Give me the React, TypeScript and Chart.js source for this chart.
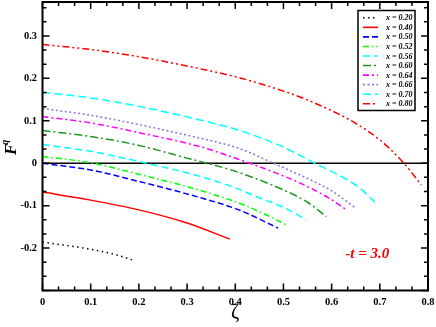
import React, { useEffect, useRef } from "react";
import { Chart, registerables } from "chart.js";

Chart.register(...registerables);

// ---- data ----
const seriesLabels = ["x = 0.20", "x = 0.40", "x = 0.50", "x = 0.52", "x = 0.56", "x = 0.60", "x = 0.64", "x = 0.66", "x = 0.70", "x = 0.80"];

const zeta020 = [0, 0.05, 0.1, 0.15, 0.192];
const f020 = [-0.186, -0.194, -0.203, -0.215, -0.23];

const zeta040 = [0, 0.1, 0.2, 0.3, 0.389];
const f040 = [-0.068, -0.087, -0.11, -0.141, -0.179];

const zeta050 = [0, 0.1, 0.2, 0.327, 0.41, 0.489];
const f050 = [0.0, -0.016, -0.043, -0.081, -0.111, -0.153];

const zeta052 = [0, 0.1, 0.2, 0.327, 0.41, 0.465, 0.51];
const f052 = [0.016, 0.001, -0.026, -0.064, -0.095, -0.122, -0.148];

const zeta056 = [0, 0.1, 0.2, 0.327, 0.4, 0.451, 0.5, 0.547];
const f056 = [0.044, 0.028, 0.004, -0.031, -0.058, -0.082, -0.104, -0.133];

const zeta060 = [0, 0.1, 0.2, 0.3, 0.4, 0.5, 0.55, 0.589];
const f060 = [0.077, 0.063, 0.042, 0.012, -0.019, -0.063, -0.092, -0.126];

const zeta064 = [0, 0.1, 0.2, 0.327, 0.43, 0.5, 0.55, 0.6, 0.631];
const f064 = [0.11, 0.095, 0.072, 0.039, 0.0, -0.03, -0.055, -0.086, -0.11];

const zeta066 = [0, 0.1, 0.2, 0.3, 0.41, 0.479, 0.55, 0.6, 0.648];
const f066 = [0.129, 0.113, 0.091, 0.066, 0.034, 0.0, -0.036, -0.065, -0.104];

const zeta070 = [0, 0.1, 0.2, 0.327, 0.41, 0.5, 0.565, 0.631, 0.66, 0.69];
const f070 = [0.167, 0.154, 0.134, 0.102, 0.077, 0.038, 0.0, -0.038, -0.06, -0.092];

const zeta080 = [0, 0.1, 0.2, 0.3, 0.41, 0.5, 0.55, 0.6, 0.65, 0.7, 0.75, 0.786];
const f080 = [0.28, 0.268, 0.251, 0.229, 0.201, 0.17, 0.149, 0.124, 0.094, 0.055, 0.0, -0.051];

const xTickValues = [0, 0.1, 0.2, 0.3, 0.4, 0.5, 0.6, 0.7, 0.8];
const xTickLabels = ["0", "0.1", "0.2", "0.3", "0.4", "0.5", "0.6", "0.7", "0.8"];
const yTickValues = [-0.2, -0.1, 0, 0.1, 0.2, 0.3];
const yTickLabels = ["-0.2", "-0.1", "0", "0.1", "0.2", "0.3"];
const yMajorMarks = [-0.3, -0.2, -0.1, 0, 0.1, 0.2, 0.3];

const annotationText = "-t = 3.0";

// ---- styles ----
const colors = ["#000000", "#ff0000", "#0000ff", "#00ff00", "#00ffff", "#1e9a1e", "#ff00ff", "#9370db", "#00ffff", "#ff0000"];
const dashes: number[][] = [
  [1.5, 3.5],
  [],
  [6, 3],
  [6, 3, 1.5, 3],
  [7, 4],
  [8, 3, 2, 3],
  [6, 3, 2, 3],
  [2, 2.5],
  [8, 4],
  [7, 3, 2, 3, 2, 3],
];

const zetas = [zeta020, zeta040, zeta050, zeta052, zeta056, zeta060, zeta064, zeta066, zeta070, zeta080];
const fs = [f020, f040, f050, f052, f056, f060, f064, f066, f070, f080];

const SERIF = "'Liberation Serif', 'Times New Roman', serif";

const overlayPlugin = {
  id: "overlay",
  beforeDatasetsDraw(chart: any) {
    const { ctx, chartArea, scales } = chart;
    const y0 = scales.y.getPixelForValue(0);
    ctx.save();
    ctx.strokeStyle = "#000";
    ctx.lineWidth = 1.5;
    ctx.beginPath();
    ctx.moveTo(chartArea.left, y0);
    ctx.lineTo(chartArea.right, y0);
    ctx.stroke();
    ctx.restore();
  },
  afterDraw(chart: any) {
    const { ctx, chartArea, scales } = chart;
    const { left, right, top, bottom } = chartArea;
    const xs = scales.x;
    const ys = scales.y;
    ctx.save();
    // frame
    ctx.strokeStyle = "#000";
    ctx.lineWidth = 2;
    ctx.strokeRect(left, top, right - left, bottom - top);
    // ticks
    ctx.lineWidth = 1.5;
    const major = 7;
    const minor = 4;
    ctx.beginPath();
    for (let i = 0; i < xTickValues.length; i++) {
      const v = xTickValues[i];
      const px = xs.getPixelForValue(v);
      ctx.moveTo(px, bottom);
      ctx.lineTo(px, bottom - major);
      ctx.moveTo(px, top);
      ctx.lineTo(px, top + major);
      if (i < xTickValues.length - 1) {
        for (let k = 1; k <= 2; k++) {
          const m = xs.getPixelForValue(v + (0.1 * k) / 3);
          ctx.moveTo(m, bottom);
          ctx.lineTo(m, bottom - minor);
          ctx.moveTo(m, top);
          ctx.lineTo(m, top + minor);
        }
      }
    }
    for (let i = 0; i < yMajorMarks.length; i++) {
      const v = yMajorMarks[i];
      const py = ys.getPixelForValue(v);
      ctx.moveTo(left, py);
      ctx.lineTo(left + major, py);
      ctx.moveTo(right, py);
      ctx.lineTo(right - major, py);
      for (let k = 1; k <= 2; k++) {
        const mv = v + (0.1 * k) / 3;
        if (mv > ys.max) continue;
        const m = ys.getPixelForValue(mv);
        ctx.moveTo(left, m);
        ctx.lineTo(left + minor, m);
        ctx.moveTo(right, m);
        ctx.lineTo(right - minor, m);
      }
    }
    ctx.stroke();

    // legend
    const lx = right - 70;
    const ly = top + 8.5;
    const lw = 57;
    const lh = 100;
    ctx.fillStyle = "#fff";
    ctx.fillRect(lx, ly, lw, lh);
    ctx.lineWidth = 1.5;
    ctx.strokeStyle = "#000";
    ctx.strokeRect(lx, ly, lw, lh);
    ctx.font = `italic bold 8px ${SERIF}`;
    ctx.textBaseline = "middle";
    ctx.textAlign = "left";
    for (let i = 0; i < seriesLabels.length; i++) {
      const ry = ly + 7.3 + i * 9.55;
      ctx.strokeStyle = colors[i];
      ctx.lineWidth = 1.6;
      ctx.setLineDash(dashes[i]);
      ctx.beginPath();
      ctx.moveTo(lx + 5, ry);
      ctx.lineTo(lx + 20, ry);
      ctx.stroke();
      ctx.setLineDash([]);
      ctx.fillStyle = "#000";
      ctx.fillText(seriesLabels[i], lx + 28, ry + 0.5);
    }

    // annotation
    ctx.fillStyle = "#ff0000";
    ctx.font = `italic bold 15px ${SERIF}`;
    ctx.textAlign = "center";
    ctx.textBaseline = "alphabetic";
    ctx.fillText(annotationText, xs.getPixelForValue(0.674), ys.getPixelForValue(-0.223));

    // x title
    ctx.fillStyle = "#000";
    ctx.font = `20px ${SERIF}`;
    ctx.textAlign = "center";
    ctx.textBaseline = "alphabetic";
    ctx.fillText("\u03b6", (left + right) / 2, 318);

    // y title
    ctx.save();
    ctx.translate(16, 155);
    ctx.rotate(-Math.PI / 2);
    ctx.font = `italic bold 17px ${SERIF}`;
    ctx.textAlign = "left";
    ctx.fillText("F", 0, 0);
    const w = ctx.measureText("F").width;
    ctx.font = `italic bold 10px ${SERIF}`;
    ctx.fillText("q", w - 1, -8);
    ctx.restore();

    ctx.restore();
  },
};

export default function App() {
  const ref = useRef<HTMLCanvasElement | null>(null);
  useEffect(() => {
    if (!ref.current) return;
    const datasets = seriesLabels.map((label, i) => ({
      label,
      data: zetas[i].map((z, j) => ({ x: z, y: fs[i][j] })),
      borderColor: colors[i],
      backgroundColor: colors[i],
      borderWidth: 1.5,
      borderDash: dashes[i],
      pointRadius: 0,
      fill: false,
      cubicInterpolationMode: "monotone" as const,
    }));
    const chart = new Chart(ref.current, {
      type: "line",
      data: { datasets },
      plugins: [overlayPlugin],
      options: {
        animation: false,
        responsive: false,
        layout: { padding: { top: 2, right: 8, left: 0, bottom: 0 } },
        plugins: { legend: { display: false }, tooltip: { enabled: false } },
        scales: {
          x: {
            type: "linear",
            min: 0,
            max: 0.8,
            grid: { display: false, drawTicks: false },
            border: { display: false },
            afterBuildTicks: (s: any) => {
              s.ticks = xTickValues.map((v) => ({ value: v }));
            },
            afterFit: (s: any) => {
              s.height = 36.5;
              s.paddingLeft = 0;
              s.paddingRight = 0;
            },
            ticks: {
              padding: 5,
              color: "#000",
              font: { family: SERIF, size: 10.5, weight: "bold" },
              maxRotation: 0,
              autoSkip: false,
              callback: (v: any) => {
                const i = xTickValues.findIndex((t) => Math.abs(t - v) < 1e-9);
                return i >= 0 ? xTickLabels[i] : "";
              },
            },
          },
          y: {
            type: "linear",
            min: -0.3,
            max: 0.38,
            grid: { display: false, drawTicks: false },
            border: { display: false },
            afterBuildTicks: (s: any) => {
              s.ticks = yTickValues.map((v) => ({ value: v }));
            },
            afterFit: (s: any) => {
              s.width = 42.5;
              s.paddingTop = 0;
              s.paddingBottom = 0;
            },
            ticks: {
              padding: 5.5,
              color: "#000",
              font: { family: SERIF, size: 10.5, weight: "bold" },
              autoSkip: false,
              callback: (v: any) => {
                const i = yTickValues.findIndex((t) => Math.abs(t - v) < 1e-9);
                return i >= 0 ? yTickLabels[i] : "";
              },
            },
          },
        },
      },
    } as any);
    return () => chart.destroy();
  }, []);
  return (
    <div style={{ position: "fixed", left: 0, top: 0, width: 436, height: 327, background: "#fff" }}>
      <canvas ref={ref} width={436} height={327} style={{ display: "block", width: 436, height: 327 }} />
    </div>
  );
}
